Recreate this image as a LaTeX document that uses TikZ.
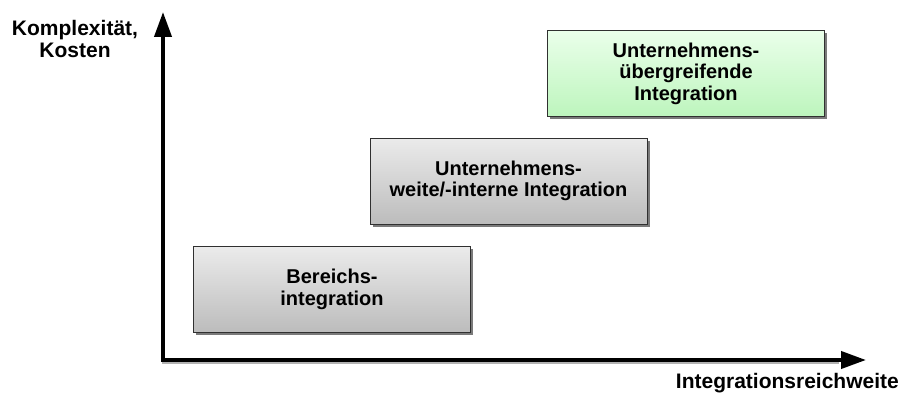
\documentclass[tikz,border=0pt]{standalone}
\usepackage{fontspec}
\setmainfont{Liberation Sans}
\usetikzlibrary{arrows.meta,shadows}
\definecolor{boxline}{HTML}{303030}
\definecolor{greytop}{HTML}{EBEBEB}
\definecolor{greybot}{HTML}{BCBCBC}
\definecolor{greentop}{HTML}{EAFFEA}
\definecolor{greenbot}{HTML}{BDF5BD}
\definecolor{shadowgrey}{HTML}{7A7A7A}
\begin{document}
\begin{tikzpicture}[x=1pt,y=-1pt,
  lbl/.style={font=\fontsize{21}{22}\selectfont\bfseries, inner sep=0pt, align=center},
  stage/.style={font=\fontsize{20}{21.5}\selectfont\bfseries, inner sep=0pt, align=center,
    draw=boxline, line width=1pt, minimum width=277pt, minimum height=86pt,
    general shadow={fill=shadowgrey, shadow xshift=2.5pt, shadow yshift=-2.5pt}},
  greystage/.style={stage, top color=greytop, bottom color=greybot},
  greenstage/.style={stage, top color=greentop, bottom color=greenbot},
  axis/.style={line width=4pt, line cap=rect, -{Triangle[length=25pt,width=17pt]}}
]
\useasboundingbox (0,0) rectangle (903,396);

% axes
\coordinate (origin) at (163,360);
\coordinate (ytop) at (163,12);
\coordinate (xend) at (866,360);
\draw[line width=3pt, gray!60] ([shift={(-1,2)}]origin) -- ([shift={(-27,2)}]xend);
\draw[axis] (origin) -- (ytop);
\draw[axis] (origin) -- (xend);

% axis labels
\node[lbl, anchor=north] (ylabel) at (75,20) {Komplexität,\\Kosten};
\node[lbl, anchor=base east] (xlabel) at (899,388) {Integrationsreichweite};

% integration stages
\node[greystage] (area) at (332,289.5) {Bereichs-\\integration};
\node[greystage] (internal) at (508.5,181) {Unternehmens-\\weite/-interne Integration};
\node[greenstage] (cross) at (686,73.5) {Unternehmens-\\übergreifende\\Integration};
\end{tikzpicture}
\end{document}
